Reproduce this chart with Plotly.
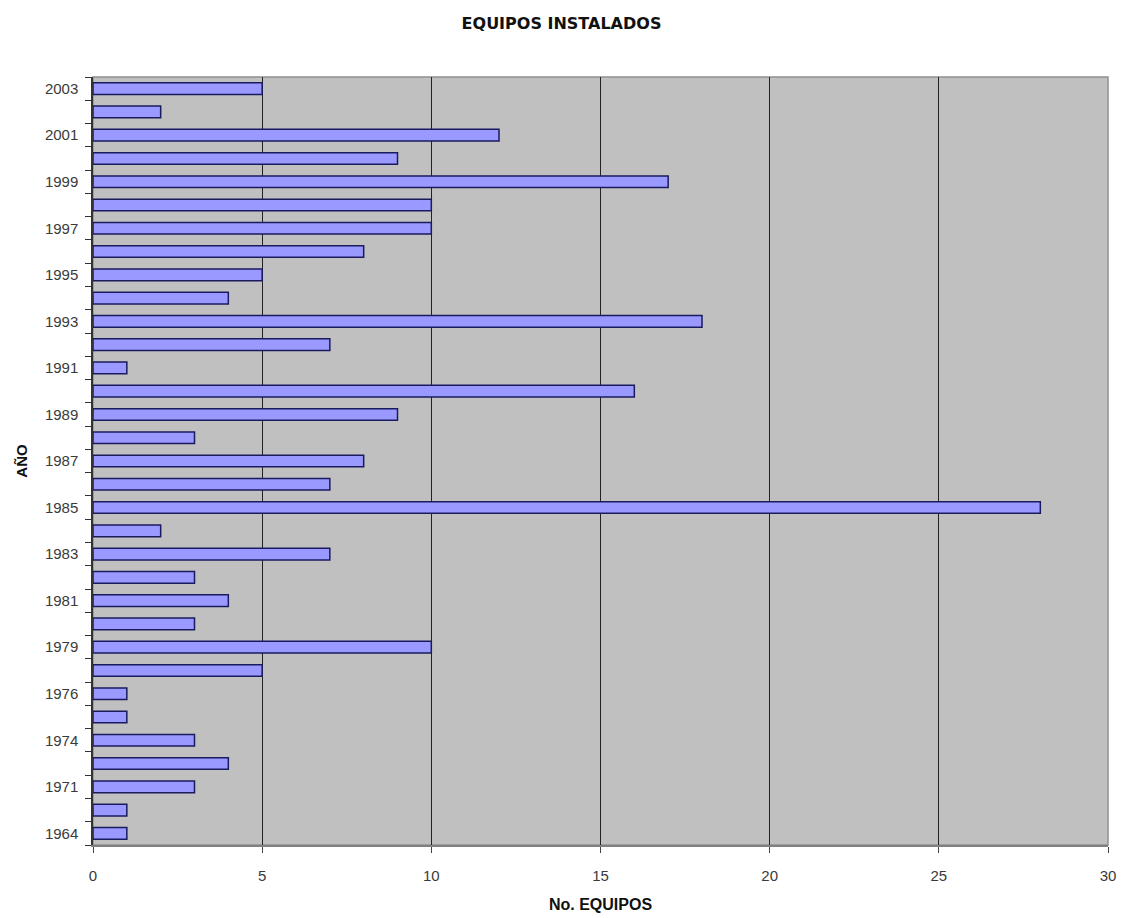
import plotly.graph_objects as go

# Installed units per year (bottom to top)
years = ["1964", "1968", "1971", "1973", "1974", "1975", "1976", "1978", "1979",
         "1980", "1981", "1982", "1983", "1984", "1985", "1986", "1987", "1988",
         "1989", "1990", "1991", "1992", "1993", "1994", "1995", "1996", "1997",
         "1998", "1999", "2000", "2001", "2002", "2003"]
equipos = [1, 1, 3, 4, 3, 1, 1, 5, 10,
           3, 4, 3, 7, 2, 28, 7, 8, 3,
           9, 16, 1, 7, 18, 4, 5, 8, 10,
           10, 17, 9, 12, 2, 5]
# Only every other year carries a label on the axis
shown_years = ["1964", "1971", "1974", "1976", "1979", "1981", "1983", "1985",
               "1987", "1989", "1991", "1993", "1995", "1997", "1999", "2001", "2003"]
x_ticks = [0, 5, 10, 15, 20, 25, 30]

fig = go.Figure(go.Bar(
    x=equipos,
    y=years,
    orientation="h",
    marker=dict(color="#9999ff", line=dict(color="#1a1a5e", width=1.5)),
    width=0.5,
))

fig.update_layout(
    width=1123,
    height=918,
    margin=dict(l=93, r=15, t=77, b=73),
    paper_bgcolor="white",
    plot_bgcolor="#c0c0c0",
    showlegend=False,
    title=dict(
        text="<b>EQUIPOS INSTALADOS</b>",
        x=0.5, xref="container", xanchor="center",
        y=0.975, yref="container", yanchor="middle",
        font=dict(family="DejaVu Sans", size=16, color="#111111"),
    ),
    font=dict(family="Liberation Sans, Arial", size=15, color="#333333"),
)

fig.update_xaxes(
    range=[0, 30],
    tickvals=x_ticks,
    automargin=False,
    showgrid=True,
    gridcolor="#222222",
    gridwidth=1.2,
    zeroline=False,
    showline=True,
    linecolor="#808080",
    linewidth=2,
    ticks="outside",
    ticklen=6,
    tickcolor="#444444",
    tickfont=dict(size=15, color="#3a3a3a"),
    ticklabelstandoff=10,
    title=dict(text="<b>No. EQUIPOS</b>", standoff=16,
               font=dict(family="Liberation Sans, Arial", size=16, color="#111111")),
)

fig.update_yaxes(
    type="category",
    categoryorder="array",
    categoryarray=years,
    tickvals=years,
    ticktext=[y if y in shown_years else "" for y in years],
    tickson="boundaries",
    automargin=False,
    ticks="outside",
    ticklen=6,
    tickcolor="#333333",
    showgrid=False,
    showline=True,
    linecolor="#333333",
    linewidth=1.5,
    tickfont=dict(size=15, color="#3a3a3a"),
    ticklabelstandoff=10,
    title=dict(text="<b>AÑO</b>", standoff=14,
               font=dict(family="Liberation Sans, Arial", size=15, color="#111111")),
)

# light frame around the plotting area
fig.add_shape(type="rect", xref="paper", yref="paper", x0=0, y0=0, x1=1, y1=1,
              line=dict(color="#909090", width=1.5), layer="below")

fig.write_html("out.html")
